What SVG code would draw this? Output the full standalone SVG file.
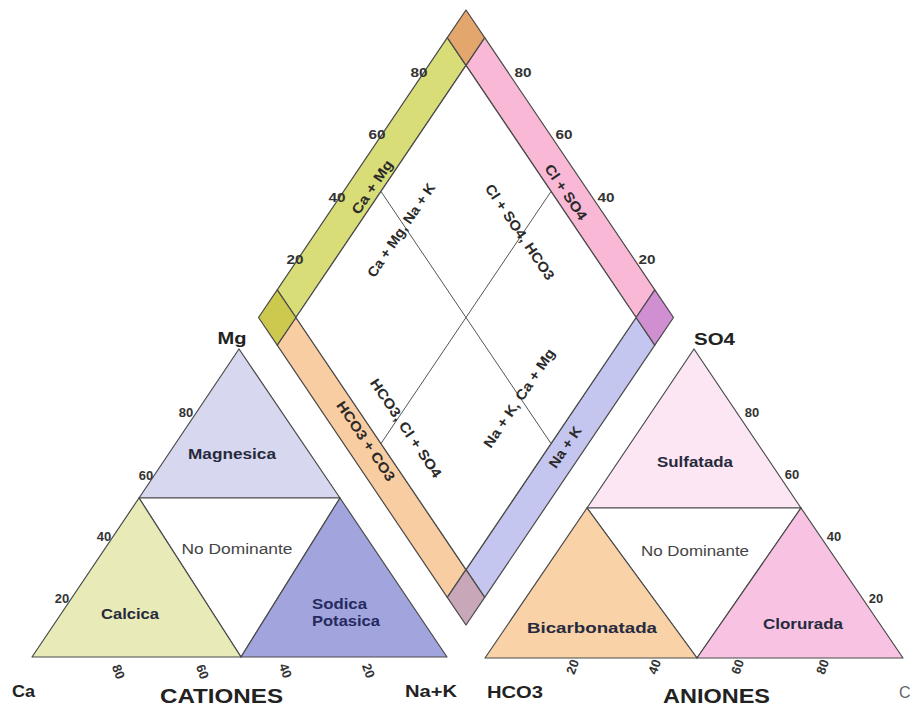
<svg xmlns="http://www.w3.org/2000/svg" width="912" height="709" viewBox="0 0 912 709">
<style>
text{font-family:"Liberation Sans",Arial,sans-serif;fill:#2e2e2e}
.tk{font-weight:bold;font-size:13px;fill:#333}
.rg{font-weight:bold;font-size:14px;fill:#272a3e}
.nd{font-size:14px;fill:#444}
.big{font-weight:bold;font-size:21px;fill:#222}
.ax{font-weight:bold;font-size:16px;fill:#222}
.bd{font-weight:bold;font-size:14px;fill:#2a2a2a}
.sh{stroke:#4a4a4a;stroke-width:1.2;stroke-linejoin:round}
.ln{stroke:#555;stroke-width:1;fill:none}
</style>
<rect width="912" height="709" fill="#ffffff"/>

<g id="diamond">
  <g id="band-ca-mg">
    <polygon class="sh" points="447.3,37.7 277.2,289.8 295.9,317.5 466,65.4" fill="#d8dd78"/>
    <text class="bd" transform="translate(372,187) rotate(-56)" x="0" y="5" text-anchor="middle" textLength="62" lengthAdjust="spacingAndGlyphs">Ca + Mg</text>
  </g>
  <g id="band-cl-so4">
    <polygon class="sh" points="484.7,37.7 654.8,289.8 636.1,317.5 466,65.4" fill="#f9b8d6"/>
    <text class="bd" transform="translate(566,192) rotate(56)" x="0" y="5" text-anchor="middle" textLength="64" lengthAdjust="spacingAndGlyphs">Cl + SO4</text>
  </g>
  <g id="band-hco3-co3">
    <polygon class="sh" points="277.2,345.2 295.9,317.5 466,569.6 447.3,597.3" fill="#f9cda2"/>
    <text class="bd" transform="translate(366,441) rotate(56)" x="0" y="5" text-anchor="middle" textLength="93" lengthAdjust="spacingAndGlyphs">HCO3 + CO3</text>
  </g>
  <g id="band-na-k">
    <polygon class="sh" points="654.8,345.2 636.1,317.5 466,569.6 484.7,597.3" fill="#c4c6ef"/>
    <text class="bd" transform="translate(565,447) rotate(-56)" x="0" y="5" text-anchor="middle" textLength="47" lengthAdjust="spacingAndGlyphs">Na + K</text>
  </g>
  <g id="corner-top">
    <polygon class="sh" points="466,10 447.3,37.7 466,65.4 484.7,37.7" fill="#e3a66c"/>
  </g>
  <g id="corner-left">
    <polygon class="sh" points="258.5,317.5 277.2,289.8 295.9,317.5 277.2,345.2" fill="#cdc94e"/>
  </g>
  <g id="corner-right">
    <polygon class="sh" points="673.5,317.5 654.8,289.8 636.1,317.5 654.8,345.2" fill="#d08fd0"/>
  </g>
  <g id="corner-bottom">
    <polygon class="sh" points="466,625 447.3,597.3 466,569.6 484.7,597.3" fill="#c8a7b8"/>
  </g>
  <g id="diamond-inner">
    <polygon class="sh" points="466,65.4 636.1,317.5 466,569.6 295.9,317.5" fill="#ffffff"/>
  </g>
  <g id="diamond-ticks">
    <text class="tk" x="419" y="77" text-anchor="middle" textLength="17" lengthAdjust="spacingAndGlyphs">80</text>
    <text class="tk" x="377" y="139" text-anchor="middle" textLength="17" lengthAdjust="spacingAndGlyphs">60</text>
    <text class="tk" x="337" y="202" text-anchor="middle" textLength="17" lengthAdjust="spacingAndGlyphs">40</text>
    <text class="tk" x="295" y="264" text-anchor="middle" textLength="17" lengthAdjust="spacingAndGlyphs">20</text>
    <text class="tk" x="523" y="77" text-anchor="middle" textLength="17" lengthAdjust="spacingAndGlyphs">80</text>
    <text class="tk" x="564" y="139" text-anchor="middle" textLength="17" lengthAdjust="spacingAndGlyphs">60</text>
    <text class="tk" x="606" y="202" text-anchor="middle" textLength="17" lengthAdjust="spacingAndGlyphs">40</text>
    <text class="tk" x="647" y="264" text-anchor="middle" textLength="17" lengthAdjust="spacingAndGlyphs">20</text>
  </g>
</g>

<g id="connectors">
  <line class="ln" x1="381" y1="191.5" x2="551" y2="443.5"/>
  <line class="ln" x1="551" y1="191.5" x2="381" y2="443.5"/>
</g>

<g id="diamond-labels">
  <text class="bd" transform="translate(401,230) rotate(-56)" x="0" y="5" text-anchor="middle" textLength="110" lengthAdjust="spacingAndGlyphs">Ca + Mg, Na + K</text>
  <text class="bd" transform="translate(520,232) rotate(56)" x="0" y="5" text-anchor="middle" textLength="112" lengthAdjust="spacingAndGlyphs">Cl + SO4, HCO3</text>
  <text class="bd" transform="translate(406,428) rotate(56)" x="0" y="5" text-anchor="middle" textLength="116" lengthAdjust="spacingAndGlyphs">HCO3, Cl + SO4</text>
  <text class="bd" transform="translate(519,398) rotate(-56)" x="0" y="5" text-anchor="middle" textLength="116" lengthAdjust="spacingAndGlyphs">Na + K, Ca + Mg</text>
</g>

<g id="cationes">
  <g id="magnesica">
    <polygon class="sh" points="139,498 340,498 239,349" fill="#d7d8f0"/>
    <text class="rg" x="232" y="459" text-anchor="middle" textLength="88" lengthAdjust="spacingAndGlyphs">Magnesica</text>
  </g>
  <g id="no-dominante-cat">
    <polygon class="sh" points="139,498 340,498 241,657" fill="#ffffff"/>
    <text class="nd" x="237" y="554" text-anchor="middle" textLength="111" lengthAdjust="spacingAndGlyphs">No Dominante</text>
  </g>
  <g id="calcica">
    <polygon class="sh" points="32,657 241,657 139,498" fill="#e8ebb7"/>
    <text class="rg" x="130" y="619" text-anchor="middle" textLength="58" lengthAdjust="spacingAndGlyphs">Calcica</text>
  </g>
  <g id="sodica-potasica">
    <polygon class="sh" points="241,657 447,657 340,498" fill="#a1a4dd"/>
    <text class="rg" x="312" y="609" textLength="55" lengthAdjust="spacingAndGlyphs" style="fill:#262a5e">Sodica</text>
    <text class="rg" x="312" y="626" textLength="68" lengthAdjust="spacingAndGlyphs" style="fill:#262a5e">Potasica</text>
  </g>
  <g id="cationes-ticks">
    <text class="tk" x="186" y="417" text-anchor="middle">80</text>
    <text class="tk" x="146" y="480" text-anchor="middle">60</text>
    <text class="tk" x="104" y="541" text-anchor="middle">40</text>
    <text class="tk" x="62" y="603" text-anchor="middle">20</text>
    <text class="tk" transform="translate(118,672) rotate(70)" x="0" y="4" text-anchor="middle">80</text>
    <text class="tk" transform="translate(202,672) rotate(70)" x="0" y="4" text-anchor="middle">60</text>
    <text class="tk" transform="translate(285,671) rotate(70)" x="0" y="4" text-anchor="middle">40</text>
    <text class="tk" transform="translate(368,671) rotate(70)" x="0" y="4" text-anchor="middle">20</text>
  </g>
  <text class="ax" x="232" y="344" text-anchor="middle" textLength="29" lengthAdjust="spacingAndGlyphs">Mg</text>
  <text class="ax" x="12" y="697" textLength="23" lengthAdjust="spacingAndGlyphs">Ca</text>
  <text class="ax" x="405" y="697" textLength="52" lengthAdjust="spacingAndGlyphs">Na+K</text>
  <text class="big" x="160" y="703" textLength="123" lengthAdjust="spacingAndGlyphs">CATIONES</text>
</g>

<g id="aniones">
  <g id="sulfatada">
    <polygon class="sh" points="587,508 801,508 694,349" fill="#fce6f3"/>
    <text class="rg" x="695" y="467" text-anchor="middle" textLength="76" lengthAdjust="spacingAndGlyphs">Sulfatada</text>
  </g>
  <g id="no-dominante-an">
    <polygon class="sh" points="587,508 801,508 697,658" fill="#ffffff"/>
    <text class="nd" x="695" y="556" text-anchor="middle" textLength="108" lengthAdjust="spacingAndGlyphs">No Dominante</text>
  </g>
  <g id="bicarbonatada">
    <polygon class="sh" points="485,658 697,658 587,508" fill="#f9d2a8"/>
    <text class="rg" x="592" y="633" text-anchor="middle" textLength="130" lengthAdjust="spacingAndGlyphs">Bicarbonatada</text>
  </g>
  <g id="clorurada">
    <polygon class="sh" points="697,658 903,658 801,508" fill="#f8c3e2"/>
    <text class="rg" x="803" y="629" text-anchor="middle" textLength="80" lengthAdjust="spacingAndGlyphs">Clorurada</text>
  </g>
  <g id="aniones-ticks">
    <text class="tk" x="752" y="417" text-anchor="middle">80</text>
    <text class="tk" x="792" y="479" text-anchor="middle">60</text>
    <text class="tk" x="834" y="541" text-anchor="middle">40</text>
    <text class="tk" x="876" y="603" text-anchor="middle">20</text>
    <text class="tk" transform="translate(573,667) rotate(-70)" x="0" y="4" text-anchor="middle">20</text>
    <text class="tk" transform="translate(655,667) rotate(-70)" x="0" y="4" text-anchor="middle">40</text>
    <text class="tk" transform="translate(738,667) rotate(-70)" x="0" y="4" text-anchor="middle">60</text>
    <text class="tk" transform="translate(823,667) rotate(-70)" x="0" y="4" text-anchor="middle">80</text>
  </g>
  <text class="ax" x="694" y="345" textLength="41" lengthAdjust="spacingAndGlyphs">SO4</text>
  <text class="ax" x="487" y="698" textLength="56" lengthAdjust="spacingAndGlyphs">HCO3</text>
  <text class="big" x="663" y="703" textLength="107" lengthAdjust="spacingAndGlyphs">ANIONES</text>
  <text x="899" y="698" style="font-size:16px;fill:#666">C</text>
</g>
</svg>
